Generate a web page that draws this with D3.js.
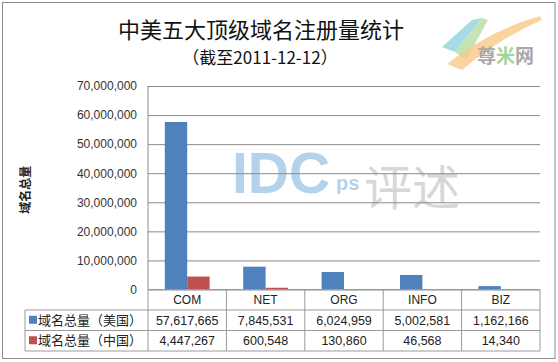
<!DOCTYPE html>
<html>
<head>
<meta charset="utf-8">
<script src="https://cdn.jsdelivr.net/npm/d3@7/dist/d3.min.js"></script>
<style>
  html, body { margin: 0; padding: 0; background: #fff; }
  svg { display: block; }
</style>
</head>
<body>
<svg id="chart" width="558" height="362"></svg>
<script>
// Top-level domain registrations, US vs China, as of 2011-12-12.
const categories = ["COM", "NET", "ORG", "INFO", "BIZ"];
const usTotals   = [57617665, 7845531, 6024959, 5002581, 1162166];
const cnTotals   = [4447267, 600548, 130860, 46568, 14340];
const seriesNames  = ["域名总量（美国）", "域名总量（中国）"];
const seriesColors = ["#4F81BD", "#C0504D"];
const yMax = 70000000;

const W = 558, H = 362;
const plot = { left: 148, right: 540, top: 86, bottom: 289.5 };
const rowH = 20.5;

const svg = d3.select("#chart");
const NUM_FONT = "Liberation Sans, Arial, sans-serif";
const CJK_FONT = "Noto Sans CJK SC, sans-serif";

// outer frame
svg.append("rect")
  .attr("x", 2.5).attr("y", 2.5)
  .attr("width", W - 5.5).attr("height", H - 6)
  .attr("fill", "#fff")
  .attr("stroke", "#8c8c8c");

// --- watermarks (faint, behind the bars) ---
const wm = svg.append("g").attr("pointer-events", "none");
wm.append("text")
  .attr("x", 232).attr("y", 193)
  .attr("font-family", "Liberation Sans, Arial, sans-serif")
  .attr("font-weight", "bold")
  .attr("font-size", 57)
  .attr("fill", "#9dc3e6").attr("opacity", 0.75)
  .text("IDC");
wm.append("text")
  .attr("x", 336).attr("y", 190)
  .attr("font-family", "Liberation Sans, Arial, sans-serif")
  .attr("font-weight", "bold")
  .attr("font-size", 20)
  .attr("fill", "#9dc3e6").attr("opacity", 0.75)
  .text("ps");
wm.append("text")
  .attr("x", 364).attr("y", 205)
  .attr("font-family", CJK_FONT)
  .attr("font-size", 48)
  .attr("fill", "#bdbdbd").attr("opacity", 0.6)
  .text("评述");

// logo, top right
const logo = svg.append("g").attr("pointer-events", "none");
logo.append("path")
  .attr("d", "M442,47 L472,20 L482,18 L455,52 Z")
  .attr("fill", "#8fd3e0").attr("opacity", 0.8);
logo.append("path")
  .attr("d", "M455,52 L482,18 L488,20 L466,60 Z")
  .attr("fill", "#b8dca0").attr("opacity", 0.8);
logo.append("path")
  .attr("d", "M447,64 Q490,30 540,16 L542,20 Q500,38 462,70 Z")
  .attr("fill", "#f8c98a").attr("opacity", 0.8);
logo.append("text")
  .attr("x", 477).attr("y", 63)
  .attr("font-family", CJK_FONT)
  .attr("font-weight", "bold")
  .attr("font-size", 19)
  .attr("fill", "#b0b0b0")
  .selectAll("tspan")
  .data([["尊", "#a8a8a8"], ["米", "#a6d59a"], ["网", "#a8a8a8"]])
  .join("tspan")
  .attr("fill", d => d[1])
  .text(d => d[0]);

// --- titles ---
svg.append("text")
  .attr("x", 261).attr("y", 38)
  .attr("text-anchor", "middle")
  .attr("font-family", CJK_FONT)
  .attr("font-size", 22)
  .attr("fill", "#111")
  .text("中美五大顶级域名注册量统计");
svg.append("text")
  .attr("x", 260).attr("y", 64)
  .attr("text-anchor", "middle")
  .attr("font-family", CJK_FONT)
  .attr("font-size", 17)
  .attr("fill", "#111")
  .text("（截至2011-12-12）");

// --- scales ---
const x = d3.scaleBand()
  .domain(categories)
  .range([plot.left, plot.right]);

// Excel-style clustered bars: gap width 150% -> each bar = band / 3.5
const barW = x.bandwidth() / 3.5;
const x1 = d3.scaleBand()
  .domain([0, 1])
  .range([x.bandwidth() / 2 - barW, x.bandwidth() / 2 + barW]);

const y = d3.scaleLinear()
  .domain([0, yMax])
  .range([plot.bottom, plot.top]);

// gridlines + tick labels
const yAxis = svg.append("g")
  .attr("transform", `translate(${plot.left},0)`)
  .call(d3.axisLeft(y)
    .ticks(7)
    .tickFormat(d3.format(","))
    .tickSize(-(plot.right - plot.left))
    .tickPadding(11));
yAxis.select(".domain").remove();
yAxis.selectAll(".tick line")
  .attr("stroke", "#8a8a8a")
  .attr("stroke-width", 1);
yAxis.selectAll(".tick text")
  .attr("font-family", NUM_FONT)
  .attr("font-size", 12)
  .attr("fill", "#333");

// y axis line
svg.append("line")
  .attr("x1", plot.left).attr("x2", plot.left)
  .attr("y1", plot.top).attr("y2", plot.bottom)
  .attr("stroke", "#8a8a8a");

// y axis title
svg.append("text")
  .attr("transform", `translate(30,${(plot.top + plot.bottom) / 2 + 2}) rotate(-90)`)
  .attr("text-anchor", "middle")
  .attr("font-family", CJK_FONT)
  .attr("font-weight", "bold")
  .attr("font-size", 12)
  .attr("fill", "#222")
  .text("域名总量");

// --- bars ---
const series = [usTotals, cnTotals];
const groups = svg.append("g")
  .selectAll("g")
  .data(categories)
  .join("g")
  .attr("transform", d => `translate(${x(d)},0)`);

groups.selectAll("rect")
  .data((d, i) => series.map((s, k) => ({ k, v: s[i] })))
  .join("rect")
  .attr("x", d => x1(d.k))
  .attr("width", x1.bandwidth())
  .attr("y", d => y(d.v))
  .attr("height", d => y(0) - y(d.v))
  .attr("fill", d => seriesColors[d.k]);

// --- data table under the axis ---
const tbl = svg.append("g");
const tableLeft = 25;
const rowsTop = plot.bottom;
const lineY = [rowsTop, rowsTop + rowH, rowsTop + 2 * rowH, rowsTop + 3 * rowH];
const gridCol = "#9a9a9a";

// horizontal lines
tbl.append("line")
  .attr("x1", plot.left).attr("x2", plot.right)
  .attr("y1", lineY[0]).attr("y2", lineY[0])
  .attr("stroke", gridCol);
lineY.slice(1).forEach(yy => {
  tbl.append("line")
    .attr("x1", tableLeft).attr("x2", plot.right)
    .attr("y1", yy).attr("y2", yy)
    .attr("stroke", gridCol);
});

// vertical lines at band edges
const edges = categories.map(c => x(c)).concat([plot.right]);
edges.forEach(xx => {
  tbl.append("line")
    .attr("x1", xx).attr("x2", xx)
    .attr("y1", lineY[0]).attr("y2", lineY[3])
    .attr("stroke", gridCol);
});
tbl.append("line")
  .attr("x1", tableLeft).attr("x2", tableLeft)
  .attr("y1", lineY[1]).attr("y2", lineY[3])
  .attr("stroke", gridCol);

// category labels
tbl.selectAll("text.cat")
  .data(categories)
  .join("text")
  .attr("class", "cat")
  .attr("x", d => x(d) + x.bandwidth() / 2)
  .attr("y", lineY[0] + rowH / 2 + 4.5)
  .attr("text-anchor", "middle")
  .attr("font-family", NUM_FONT)
  .attr("font-size", 12)
  .attr("fill", "#222")
  .text(d => d);

// series rows
series.forEach((s, k) => {
  const cy = lineY[k + 1] + rowH / 2;
  tbl.append("rect")
    .attr("x", 29).attr("y", cy - 4.5)
    .attr("width", 8).attr("height", 8)
    .attr("fill", seriesColors[k]);
  tbl.append("text")
    .attr("x", 38).attr("y", cy + 4.5)
    .attr("font-family", CJK_FONT)
    .attr("font-size", 13)
    .attr("fill", "#222")
    .text(seriesNames[k]);
  tbl.selectAll(`text.v${k}`)
    .data(s)
    .join("text")
    .attr("class", `v${k}`)
    .attr("x", (d, i) => x(categories[i]) + x.bandwidth() / 2)
    .attr("y", cy + 4.5)
    .attr("text-anchor", "middle")
    .attr("font-family", NUM_FONT)
    .attr("font-size", 12.5)
    .attr("fill", "#222")
    .text(d => d3.format(",")(d));
});
</script>
</body>
</html>
